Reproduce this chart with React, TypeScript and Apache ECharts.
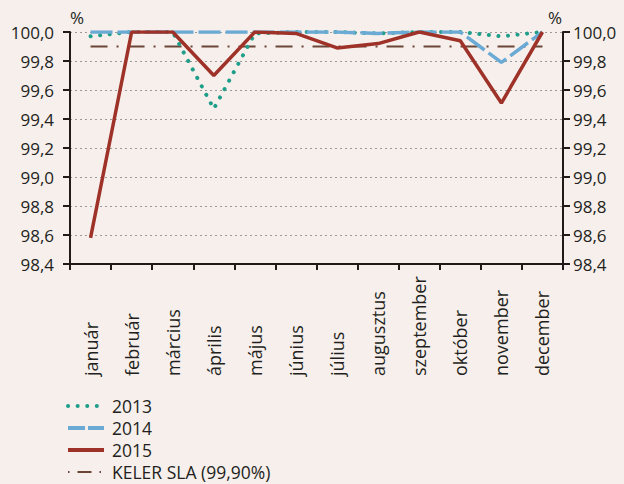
import React, { useEffect, useRef } from "react";
import * as echarts from "echarts";

const categories = ["január", "február", "március", "április", "május", "június", "július", "augusztus", "szeptember", "október", "november", "december"];
const s2013 = [99.97, 100.0, 100.0, 99.47, 99.99, 100.0, 100.0, 99.99, 100.0, 100.0, 99.97, 100.0];
const s2014 = [100.0, 100.0, 100.0, 100.0, 100.0, 100.0, 100.0, 99.99, 100.0, 100.0, 99.79, 100.0];
const s2015 = [98.58, 100.0, 100.0, 99.7, 100.0, 99.99, 99.89, 99.92, 100.0, 99.94, 99.51, 100.0];
const sla = [99.9, 99.9, 99.9, 99.9, 99.9, 99.9, 99.9, 99.9, 99.9, 99.9, 99.9, 99.9];
const seriesNames = ["2013", "2014", "2015", "KELER SLA (99,90%)"];

const FONT = "'Open Sans', 'DejaVu Sans', sans-serif";
const TEXT = "#231f20";
const AXIS = "#231a15";
const C2013 = "#1f9e8a";
const C2014 = "#6aaad4";
const C2015 = "#9e3228";
const CSLA = "#6b4536";
const DASH2013 = [0.1, 9.5];
const DASH2014 = [22, 5];
const DASHSLA = [17, 9, 2, 9];

export default function App() {
  const ref = useRef<HTMLDivElement>(null);
  useEffect(() => {
    document.body.style.margin = "0";
    document.body.style.overflow = "hidden";
    const chart = echarts.init(ref.current!, null, { renderer: "svg" });
    const yAxisBase = {
      type: "value" as const,
      min: 98.4,
      max: 100,
      interval: 0.2,
      axisLine: { show: true, lineStyle: { color: AXIS, width: 2 } },
      axisTick: { show: true, length: 7, inside: false, lineStyle: { color: AXIS, width: 2 } },
      axisLabel: {
        color: TEXT,
        fontSize: 17,
        fontFamily: FONT,
        formatter: (v: number) => v.toFixed(1).replace(".", ","),
      },
    };
    const legendRows = [
      { name: seriesNames[0], color: C2013, width: 4, dash: DASH2013, cap: "round" },
      { name: seriesNames[1], color: C2014, width: 4, dash: [17, 3], cap: "butt" },
      { name: seriesNames[2], color: C2015, width: 4, dash: null, cap: "butt" },
      { name: seriesNames[3], color: CSLA, width: 2, dash: [1.5, 8, 14, 8, 1.5, 20], cap: "butt" },
    ];
    const legendGraphics: any[] = [];
    legendRows.forEach((r, i) => {
      const y = 406 + i * 22;
      legendGraphics.push({
        type: "line",
        shape: { x1: 68, y1: y, x2: 104, y2: y },
        style: { stroke: r.color, lineWidth: r.width, lineDash: r.dash, lineCap: r.cap },
      });
      legendGraphics.push({
        type: "text",
        x: 112,
        y: y,
        style: { text: r.name, fill: TEXT, font: `17.5px ${FONT}`, verticalAlign: "middle" },
      });
    });
    chart.setOption({
      animation: false,
      backgroundColor: "#f6efec",
      textStyle: { fontFamily: FONT },
      grid: { left: 70, right: 61, top: 32, bottom: 220, containLabel: false },
      xAxis: {
        type: "category",
        data: categories,
        boundaryGap: true,
        axisLine: { lineStyle: { color: AXIS, width: 2 } },
        axisTick: { show: true, length: 6, alignWithLabel: false, lineStyle: { color: AXIS, width: 2 } },
        axisLabel: { rotate: 90, align: "left", color: TEXT, fontSize: 18, fontFamily: FONT, margin: 112, interval: 0 },
      },
      yAxis: [
        {
          ...yAxisBase,
          position: "left",
          axisLabel: { ...yAxisBase.axisLabel, margin: 16 },
          splitLine: { show: true, lineStyle: { color: "#9a9a9a", type: [2, 3], width: 1 } },
        },
        {
          ...yAxisBase,
          position: "right",
          axisLabel: { ...yAxisBase.axisLabel, margin: 10 },
          splitLine: { show: false },
        },
      ],
      graphic: [
        { type: "text", left: 70, top: 9, style: { text: "%", fill: TEXT, font: `17px ${FONT}` } },
        { type: "text", left: 548, top: 9, style: { text: "%", fill: TEXT, font: `17px ${FONT}` } },
        ...legendGraphics,
      ],
      series: [
        {
          name: seriesNames[3],
          type: "line",
          data: sla,
          symbol: "none",
          z: 1,
          lineStyle: { color: CSLA, width: 2, type: DASHSLA },
        },
        {
          name: seriesNames[0],
          type: "line",
          data: s2013,
          symbol: "none",
          z: 2,
          lineStyle: { color: C2013, width: 4, type: DASH2013, cap: "round" },
        },
        {
          name: seriesNames[1],
          type: "line",
          data: s2014,
          symbol: "none",
          z: 3,
          lineStyle: { color: C2014, width: 3.5, type: DASH2014 },
        },
        {
          name: seriesNames[2],
          type: "line",
          data: s2015,
          symbol: "none",
          z: 4,
          lineStyle: { color: C2015, width: 3.5 },
        },
      ],
    });
    return () => chart.dispose();
  }, []);
  return <div ref={ref} style={{ width: 624, height: 484, position: "fixed", left: 0, top: 0 }} />;
}
